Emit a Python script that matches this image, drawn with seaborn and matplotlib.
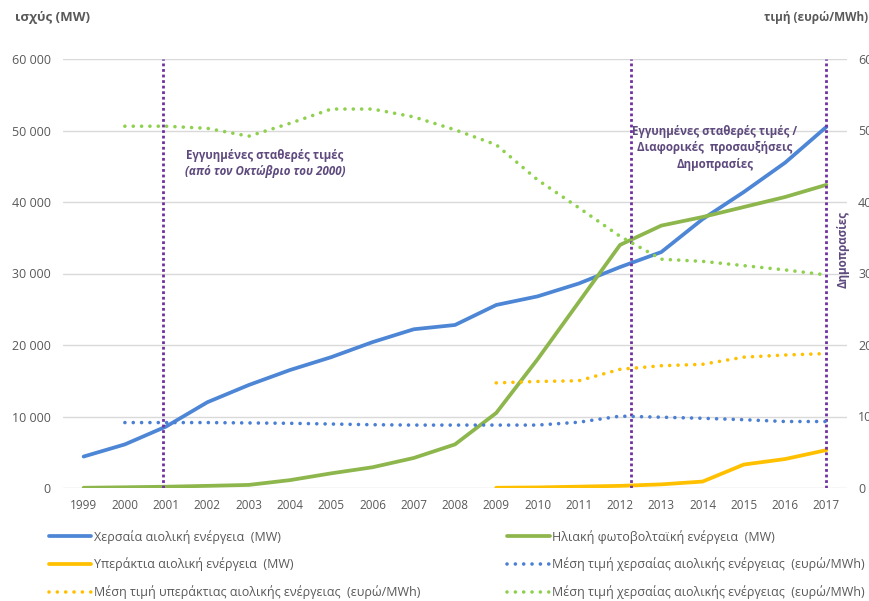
import matplotlib
matplotlib.use("Agg")
import matplotlib.pyplot as plt
from matplotlib.lines import Line2D
import numpy as np
import pandas as pd
import seaborn as sns

# ---- data -------------------------------------------------------------
years = list(range(1999, 2018))
onshore_mw = [4400, 6100, 8600, 12000, 14400, 16500, 18300, 20400, 22200, 22800,
              25600, 26800, 28600, 30900, 33000, 37600, 41400, 45500, 50500]
solar_mw = [30, 100, 180, 300, 430, 1100, 2050, 2900, 4200, 6100,
            10500, 18000, 26000, 34000, 36700, 37900, 39300, 40700, 42400]

offshore_years = list(range(2009, 2018))
offshore_mw = [35, 80, 190, 300, 510, 900, 3280, 4050, 5300]

price_years = list(range(2000, 2018))
onshore_price = [91.5, 91.5, 91.5, 91.0, 90.5, 89.5, 88.5, 88.0, 88.0, 88.0,
                 88.0, 92.0, 100.5, 99.0, 97.5, 95.5, 93.0, 93.0]
solar_price = [506, 506, 503, 492, 510, 530, 530, 519, 501, 480,
               431, 392, 352, 320, 317, 311, 305, 298]
offshore_price_years = list(range(2009, 2018))
offshore_price = [147, 149, 150, 166, 171, 173, 183, 186, 188]

# regime boundaries (year position on the category axis)
regime_lines = [2000.92, 2012.27, 2017.0]

left_ticks = [0, 10000, 20000, 30000, 40000, 50000, 60000]
right_ticks = [0, 100, 200, 300, 400, 500, 600]

labels = {
    "onshore": "Χερσαία αιολική ενέργεια  (MW)",
    "solar": "Ηλιακή φωτοβολταϊκή ενέργεια  (MW)",
    "offshore": "Υπεράκτια αιολική ενέργεια  (MW)",
    "onshore_price": "Μέση τιμή χερσαίας αιολικής ενέργειας  (ευρώ/MWh)",
    "offshore_price": "Μέση τιμή υπεράκτιας αιολικής ενέργειας  (ευρώ/MWh)",
    "solar_price": "Μέση τιμή χερσαίας αιολικής ενέργειας  (ευρώ/MWh)",
}

# ---- style ------------------------------------------------------------
sns.set_theme(style="white")
plt.rcParams["font.family"] = ["Open Sans", "Noto Sans", "DejaVu Sans"]

GREY = "#595959"
BLUE = "#4E86D6"
GREEN = "#8DB64C"
GOLD = "#FFC000"
BLUE_DOT = "#4A7FD4"
GREEN_DOT = "#8FD14F"
PURPLE = "#7030A0"
NOTE = "#5E4A7E"
dot = (0, (0.01, 2.3))

fig = plt.figure(figsize=(8.70, 6.01), dpi=100)
ax = fig.add_axes([63 / 870, 1 - 488 / 601, (847 - 63) / 870, (488 - 59) / 601])
ax2 = ax.twinx()

# gridlines
for t in left_ticks:
    ax.axhline(t, color="#D9D9D9", lw=1.0, zorder=0)

# capacity lines (left axis)
sns.lineplot(x=years, y=onshore_mw, ax=ax, color=BLUE, lw=2.7, zorder=3)
sns.lineplot(x=years, y=solar_mw, ax=ax, color=GREEN, lw=2.7, zorder=3)
sns.lineplot(x=offshore_years, y=offshore_mw, ax=ax, color=GOLD, lw=2.7, zorder=3)

# price lines (right axis)
for xs, ys, c in [(price_years, onshore_price, BLUE_DOT),
                  (price_years, solar_price, GREEN_DOT),
                  (offshore_price_years, offshore_price, GOLD)]:
    sns.lineplot(x=xs, y=ys, ax=ax2, color=c, lw=2.6, zorder=3)
    ax2.lines[-1].set_linestyle(dot)
    ax2.lines[-1].set_dash_capstyle("round")

# regime boundaries
for xv in regime_lines:
    ax.axvline(xv, ymin=0, ymax=1, color=PURPLE, lw=2.0,
               linestyle=(0, (1, 1)), zorder=4)

# axes limits and ticks
ax.set_xlim(1998.5, 2017.5)
ax.set_ylim(0, 60000)
ax2.set_ylim(0, 600)
ax.set_xticks(years)
ax.set_xticklabels([str(y) for y in years], fontsize=8.5, color=GREY,
                   family=["Liberation Sans Narrow", "Open Sans"])
ax.set_yticks(left_ticks)
ax.set_yticklabels([f"{t:,}".replace(",", " ") for t in left_ticks],
                   fontsize=9, color=GREY)
ax2.set_yticks(right_ticks)
ax2.set_yticklabels([str(t) for t in right_ticks], fontsize=9, color=GREY)
ax.tick_params(axis="y", length=0, pad=9)
ax.tick_params(axis="x", length=0, pad=8)
ax2.tick_params(axis="y", length=0, pad=8)
ax.set_xlabel("")
ax.set_ylabel("")
ax2.set_ylabel("")
for a in (ax, ax2):
    for s in a.spines.values():
        s.set_visible(False)
    a.grid(False)

# axis titles
fig.text(15 / 870, 1 - 18 / 601, "ισχύς (MW)", fontsize=9.5, fontweight="bold",
         color=GREY, ha="left", va="center")
fig.text(868 / 870, 1 - 18 / 601, "τιμή (ευρώ/MWh)", fontsize=8.5,
         fontweight="bold", color=GREY, ha="right", va="center")

# annotations
fig.text(265 / 870, 1 - 155 / 601, "Εγγυημένες σταθερές τιμές", fontsize=8.3,
         fontweight="bold", color=NOTE, ha="center", va="center")
fig.text(265 / 870, 1 - 172 / 601, "(από τον Οκτώβριο του 2000)", fontsize=8.3,
         fontweight="bold", style="italic", color=NOTE, ha="center", va="center")
fig.text(715 / 870, 1 - 148 / 601,
         "Εγγυημένες σταθερές τιμές /\nΔιαφορικές  προσαυξήσεις\nΔημοπρασίες",
         fontsize=8.3, fontweight="bold", color=NOTE, ha="center", va="center",
         linespacing=1.35)
fig.text(843 / 870, 1 - 249 / 601, "Δημοπρασίες", fontsize=8.3,
         fontweight="bold", color=NOTE, ha="center", va="center", rotation=90)

# legend, two columns
def solid(c):
    return Line2D([], [], color=c, lw=2.7)

def dotted(c):
    return Line2D([], [], color=c, lw=2.6, linestyle=dot, dash_capstyle="round")

left_h = [solid(BLUE), solid(GOLD), dotted(GOLD)]
left_l = [labels["onshore"], labels["offshore"], labels["offshore_price"]]
right_h = [solid(GREEN), dotted(BLUE_DOT), dotted(GREEN_DOT)]
right_l = [labels["solar"], labels["onshore_price"], labels["solar_price"]]

common = dict(frameon=False, fontsize=9, handlelength=3.4, handletextpad=0.2,
              labelspacing=1.1, borderpad=0, borderaxespad=0, loc="upper left",
              labelcolor=GREY)
fig.legend(left_h, left_l, bbox_to_anchor=(49 / 870, 1 - 530 / 601), **common)
fig.legend(right_h, right_l, bbox_to_anchor=(507 / 870, 1 - 530 / 601), **common)

fig.savefig("out.png", dpi=100)
